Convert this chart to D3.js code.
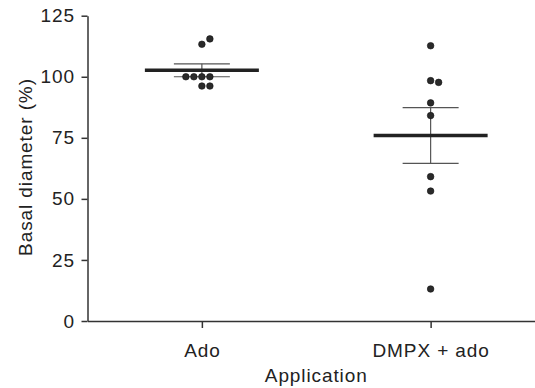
<!DOCTYPE html>
<html>
<head>
<meta charset="utf-8">
<script src="https://cdn.jsdelivr.net/npm/d3@7"></script>
<style>
  body { margin: 0; background: #fff; }
  text { font-family: "Liberation Sans", Arial, sans-serif; fill: #222; letter-spacing: 0.9px; }
</style>
</head>
<body>
<svg id="chart" width="535" height="388"></svg>
<script>
// Groups on the x axis
const groups = ["Ado", "DMPX + ado"];

const adoValues = [96.2, 96.2, 100, 100, 100, 100, 113.3, 115.5];
const dmpxValues = [13.1, 53.2, 59.1, 84.1, 89.3, 98.4, 97.7, 112.7];

// Y tick labels
const yTicks = [0, 25, 50, 75, 100, 125];

const width = 535;
const height = 388;
const margin = { top: 15.7, right: -10, bottom: 67, left: 87.5 };

const svg = d3.select("#chart");

// Scales
const y = d3.scaleLinear()
  .domain([0, 125])
  .range([height - margin.bottom, margin.top]);

const x = d3.scalePoint()
  .domain(groups)
  .range([margin.left, width - margin.right])
  .padding(0.5);

// Axes
const yAxis = svg.append("g")
  .attr("transform", `translate(${margin.left},0)`)
  .call(d3.axisLeft(y).tickValues(yTicks).tickSize(6).tickSizeOuter(0).tickPadding(6.5));

const xAxis = svg.append("g")
  .attr("transform", `translate(0,${y(0)})`)
  .call(d3.axisBottom(x).tickSize(7).tickSizeOuter(0).tickPadding(16));

[yAxis, xAxis].forEach((g) => {
  g.selectAll("path, line").attr("stroke", "#333").attr("stroke-width", 1.5);
  g.selectAll("text").attr("font-size", 19).attr("fill", "#222").attr("font-family", null);
});

// Axis titles
svg.append("text")
  .attr("transform", `translate(32,167) rotate(-90)`)
  .attr("text-anchor", "middle")
  .attr("font-size", 19)
  .text("Basal diameter (%)");

svg.append("text")
  .attr("x", (margin.left + width - margin.right) / 2)
  .attr("y", 381.5)
  .attr("text-anchor", "middle")
  .attr("font-size", 19)
  .text("Application");

// Summary stats per group (mean +/- SEM)
const series = [
  { name: groups[0], values: adoValues },
  { name: groups[1], values: dmpxValues }
];
series.forEach((s) => {
  s.mean = d3.mean(s.values);
  s.sem = d3.deviation(s.values) / Math.sqrt(s.values.length);
});

const capHalf = 28;
const meanHalf = 57;

// Error bars
const err = svg.append("g").attr("stroke", "#555").attr("stroke-width", 1.2);
series.forEach((s) => {
  const cx = x(s.name);
  err.append("line")
    .attr("x1", cx).attr("x2", cx)
    .attr("y1", y(s.mean - s.sem)).attr("y2", y(s.mean + s.sem));
  [s.mean - s.sem, s.mean + s.sem].forEach((v) => {
    err.append("line")
      .attr("x1", cx - capHalf).attr("x2", cx + capHalf)
      .attr("y1", y(v)).attr("y2", y(v));
  });
});

// Mean lines
svg.append("g")
  .selectAll("line")
  .data(series)
  .join("line")
  .attr("x1", (d) => x(d.name) - meanHalf)
  .attr("x2", (d) => x(d.name) + meanHalf)
  .attr("y1", (d) => y(d.mean))
  .attr("y2", (d) => y(d.mean))
  .attr("stroke", "#222")
  .attr("stroke-width", 3.5);

// Simple beeswarm: put each point in the first free slot
const r = 3.3;
const slotStep = 8;
const slotOrder = [0, 1, -1, -2, 2, -3, 3];
const points = [];
series.forEach((s) => {
  const placed = [];
  s.values.forEach((v) => {
    const py = y(v);
    const slot = slotOrder.find((k) =>
      !placed.some((p) => p.slot === k && Math.abs(p.py - py) < 2 * r + 0.5)
    );
    placed.push({ slot, py });
    points.push({ cx: x(s.name) + slot * slotStep, cy: py });
  });
});

svg.append("g")
  .selectAll("circle")
  .data(points)
  .join("circle")
  .attr("cx", (d) => d.cx)
  .attr("cy", (d) => d.cy)
  .attr("r", r)
  .attr("fill", "#2a2a2a")
  .attr("stroke", "#111")
  .attr("stroke-width", 0.6);
</script>
</body>
</html>
